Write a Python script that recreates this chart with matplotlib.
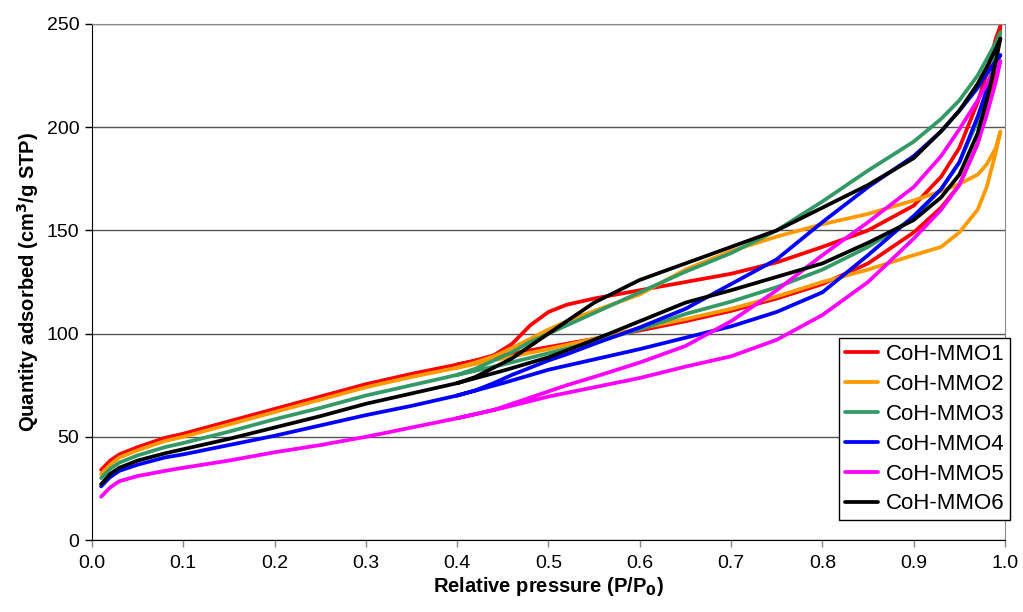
import matplotlib
matplotlib.use("Agg")
import matplotlib.pyplot as plt

plt.rcParams['font.family'] = ['Liberation Sans', 'DejaVu Sans']

# relative pressure grids for the two branches
p_ads = [0.01, 0.02, 0.03, 0.05, 0.08, 0.10, 0.15, 0.20, 0.25, 0.30, 0.35, 0.40, 0.45, 0.50,
         0.55, 0.60, 0.65, 0.70, 0.75, 0.80, 0.85, 0.90, 0.93, 0.95, 0.97, 0.98, 0.99, 0.995]
p_des = [0.995, 0.99, 0.98, 0.97, 0.95, 0.93, 0.90, 0.85, 0.80, 0.75, 0.70, 0.65, 0.60,
         0.55, 0.52, 0.50, 0.48, 0.46, 0.44, 0.42, 0.40]

# adsorption branches (cm3/g STP)
ads1 = [34, 38.5, 41.5, 45, 49.5, 51.5, 57.5, 63.5, 69.5, 75.5, 80.5, 85, 89.5, 93.5,
        97.5, 101.5, 106, 111, 117, 124, 134, 149, 161, 172, 192, 208, 230, 249]
ads2 = [32, 36.5, 40, 43.5, 48, 50, 56, 62, 68, 74, 79, 83.5, 88, 92.5,
        97.5, 102.5, 107, 112, 118, 125, 131, 138, 142, 149, 160, 171, 188, 198]
ads3 = [30, 34.5, 37.5, 41, 45, 47, 52.5, 58.5, 64, 70, 75, 80, 85, 90.5,
        96, 102, 109.5, 115.5, 122.5, 131, 142, 156, 170, 183, 203, 218, 236, 246]
ads4 = [26, 30.5, 33.5, 36.5, 40, 41.5, 46, 50.5, 55.5, 60.5, 65, 70, 76, 82.5,
        87.5, 92.5, 98, 103.5, 110.5, 120, 138, 157, 170, 183, 205, 218, 231, 235]
ads5 = [21, 25.5, 28.5, 31, 33.5, 35, 38.5, 42.5, 46, 50, 54.5, 59, 64, 69.5,
        74, 78.5, 84, 89, 97, 109, 125, 146, 160, 172, 192, 206, 222, 232]
ads6 = [27, 32, 35, 38.5, 42, 44, 49, 54.5, 60, 66, 71, 76, 82, 88.5,
        97, 106, 115, 121, 127.5, 134, 144, 155, 166, 177, 197, 213, 232, 243]

# desorption branches (cm3/g STP)
des1 = [249, 243, 226, 212, 190, 176, 162, 150, 142, 134.5, 129, 125, 121,
        117, 114, 110.5, 104, 95, 89.5, 87, 85]
des2 = [198, 190, 182, 177, 172.5, 169, 164.5, 158, 153, 147, 140, 131, 119,
        111, 106, 102, 97.5, 93, 89, 86, 83.5]
des3 = [246, 241, 233, 225, 213, 204, 193, 179, 164, 150, 139, 130, 120,
        110, 104, 100, 96, 91, 87, 83, 80]
des4 = [235, 232, 226, 219, 208, 198, 186, 171, 154, 136, 124, 112, 103,
        95, 90, 87, 83.5, 80, 76, 72.5, 70]
des5 = [232, 229, 221, 213, 199, 186, 171, 154, 138, 121, 106, 94, 86,
        79, 75, 72, 69, 66, 63, 61, 59]
des6 = [243, 238, 229, 221, 208, 198, 185, 172, 161, 150, 142, 134, 126,
        115, 106, 100, 94, 88, 83.5, 79, 76]

names = ['CoH-MMO1', 'CoH-MMO2', 'CoH-MMO3', 'CoH-MMO4', 'CoH-MMO5', 'CoH-MMO6']
colors = ['#FF0000', '#FF9900', '#339966', '#0000FF', '#FF00FF', '#000000']
ads_all = [ads1, ads2, ads3, ads4, ads5, ads6]
des_all = [des1, des2, des3, des4, des5, des6]

fig = plt.figure(figsize=(10.23, 6.12), dpi=100)
ax = fig.add_axes([0.0899, 0.1176, 0.8925, 0.8432])

for name, c, a, d in zip(names, colors, ads_all, des_all):
    ax.plot(p_ads + p_des, a + d, color=c, lw=2.7, label=name,
            solid_joinstyle='round', solid_capstyle='round')

ax.set_xlim(0, 1.0)
ax.set_ylim(0, 250)
ax.set_xticks([i / 10 for i in range(11)])
ax.set_xticklabels(['%.1f' % (i / 10) for i in range(11)])
ax.set_yticks(range(0, 251, 50))
ax.yaxis.grid(True, color='#555555', lw=1)
ax.set_axisbelow(True)

ax.tick_params(axis='x', direction='out', length=5, width=1, color='#888888',
               labelsize=14, pad=6)
ax.tick_params(axis='y', direction='out', length=5, width=1, color='black',
               labelsize=14, pad=4)
ax.spines['left'].set_color('black')
ax.spines['bottom'].set_color('black')
ax.spines['top'].set_color('#888888')
ax.spines['right'].set_color('#888888')

ax.set_xlabel('Relative pressure (P/P$_\\mathbf{0}$)', fontsize=14.5, fontweight='bold', labelpad=2)
ax.set_ylabel('Quantity adsorbed (cm$^\\mathbf{3}$/g STP)', fontsize=14.5, fontweight='bold', labelpad=4)

leg = ax.legend(loc='lower right', bbox_to_anchor=(1010 / 1023, (612 - 520) / 612),
                bbox_transform=fig.transFigure, fontsize=16, frameon=True, fancybox=False,
                edgecolor='black', framealpha=1, borderpad=0.25, labelspacing=0.4,
                handlelength=1.5, handletextpad=0.35, borderaxespad=0)
leg.get_frame().set_linewidth(1)

fig.savefig('out.png', dpi=100)
